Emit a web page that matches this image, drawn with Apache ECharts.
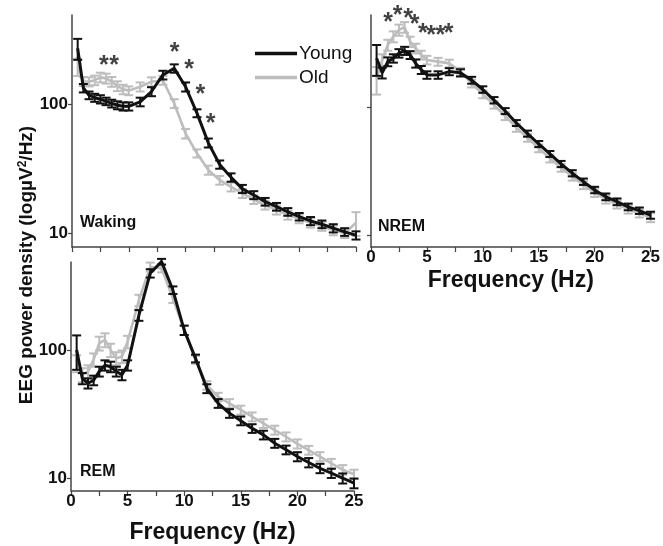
<!DOCTYPE html>
<html><head><meta charset="utf-8">
<script src="https://cdn.jsdelivr.net/npm/echarts@6/dist/echarts.min.js"></script>
<style>html,body{margin:0;padding:0;background:#fff}#c{width:663px;height:546px}</style>
</head><body><div id="c"></div>
<script>
// frequency bins (Hz)
const freq = [0.5,1,1.5,2,2.5,3,3.5,4,4.5,5,6,7,8,9,10,11,12,13,14,15,16,17,18,19,20,21,22,23,24,25];
// Waking
const wakeYoung    = [270,133,117,112,109,105,101,98,96,96,104,125,168,189,136,85,50,34,27,22,19.7,17.5,16,14.6,13.4,12.4,11.7,10.9,10.2,9.6];
const wakeYoungSem = [50,10,8,8,8,7,7,7,7,7,8,10,13,14,11,6,4,2.5,2,1.6,1.4,1.2,1.1,1,0.9,0.9,0.8,0.8,0.7,0.7];
const wakeOld      = [195,150,149,153,161,158,149,138,130,127,136,149,153,101,59,41.5,30.8,25.7,22.8,20.3,18.2,16.5,15.1,13.8,12.9,12.0,11.3,10.5,9.95,12];
const wakeOldSem   = [30,12,12,13,14,14,13,12,11,10,11,12,12,8,5,3,2.5,2,1.8,1.6,1.4,1.3,1.2,1.1,1,1,0.9,0.9,0.8,2.5];
// NREM
const nremYoung    = [240,185,226,240,263,275,255,219,195,178,178,189,185,162,137,113,93,75,62,51.4,43,35.9,30.4,26.1,22.5,19.9,18.2,16.6,15.5,14.3];
const nremYoungSem = [65,18,18,18,20,20,18,16,14,12,12,12,12,10,8,6.5,5,4,3.4,2.8,2.3,2,1.7,1.5,1.3,1.2,1.1,1,0.9,0.9];
const nremOld      = [165,233,305,355,400,420,324,287,255,233,226,219,189,153,126,104,85,69,57.5,47.6,39.7,33.6,28.6,24.6,21.4,19,17.4,15.9,14.8,13.7];
const nremOldSem   = [40,25,30,35,40,40,30,25,20,18,16,15,13,11,9,7,6,5,4,3.3,2.8,2.4,2,1.8,1.6,1.4,1.3,1.2,1.1,1.1];
// REM
const remYoung     = [100,60,55,58,68,76,74,68,64,76,187,398,490,294,143,86,50,38.3,32,28,24.4,21.7,18.7,16.6,14.7,13.2,11.9,10.9,9.95,9.1];
const remYoungSem  = [30,6,5,5,6,7,7,6,6,7,18,30,25,20,12,6,4,3,2.5,2.2,1.9,1.7,1.5,1.3,1.2,1.1,1,0.9,0.9,0.8];
const remOld       = [79,64,68,84,113,120,100,86,89,116,245,447,434,253,143,84,53,43,38.3,34,30.1,26.7,23.7,21,18.5,16.5,14.7,13,11.6,10.7];
const remOldSem    = [12,8,8,10,14,15,12,10,10,13,25,35,30,20,12,6,4,3.3,3,2.7,2.4,2.1,1.9,1.7,1.5,1.3,1.2,1.1,1,0.9];
// significance markers [freq, level]
const asterWake = [[2.8,215],[3.7,215],[9.04,270],[10.3,200],[11.3,128],[12.2,76]];
const asterNrem = [[1.53,493],[2.37,556],[3.31,533],[3.9,473],[4.64,405],[5.38,394],[6.2,394],[6.94,405]];
// tick labels
const yTickVals = [10, 100];
const xTickLabels = [0, 5, 10, 15, 20, 25];

const FONT = "'Liberation Sans', Arial, sans-serif";
const BLACK = '#111111', GRAY = '#bdbdbd', AXIS = '#444444';

function errRender(params, api) {
  const x = api.value(0), lo = api.value(1), hi = api.value(2);
  const p1 = api.coord([x, lo]), p2 = api.coord([x, hi]);
  const w = 4.5;
  const style = { stroke: api.visual('color'), lineWidth: 2 };
  return { type: 'group', children: [
    { type: 'line', shape: { x1: p1[0], y1: p1[1], x2: p2[0], y2: p2[1] }, style },
    { type: 'line', shape: { x1: p1[0] - w, y1: p1[1], x2: p1[0] + w, y2: p1[1] }, style },
    { type: 'line', shape: { x1: p2[0] - w, y1: p2[1], x2: p2[0] + w, y2: p2[1] }, style }
  ]};
}
function lineSeries(name, vals, color, idx) {
  return { name, type: 'line', xAxisIndex: idx, yAxisIndex: idx, data: freq.map((f, i) => [f, vals[i]]),
    showSymbol: false, symbol: 'none', clip: false, color,
    lineStyle: { color, width: color === BLACK ? 3 : 2.6 }, z: color === BLACK ? 4 : 2 };
}
function errSeries(name, vals, sem, color, idx) {
  return { name, type: 'custom', xAxisIndex: idx, yAxisIndex: idx, renderItem: errRender, clip: false,
    itemStyle: { color }, encode: { x: 0, y: [1, 2] }, z: color === BLACK ? 5 : 3,
    data: freq.map((f, i) => [f, vals[i] - sem[i], vals[i] + sem[i]]) };
}
function asterSeries(pts, idx) {
  return { type: 'scatter', xAxisIndex: idx, yAxisIndex: idx, data: pts, symbolSize: 1, clip: false,
    itemStyle: { color: 'rgba(0,0,0,0)' }, z: 6,
    label: { show: true, position: 'inside', formatter: '*', fontSize: 25, fontWeight: 'bold', color: BLACK, fontFamily: FONT, offset: [0, 5] } };
}
function xAxis(idx, showLabels, nameGap) {
  return { type: 'value', gridIndex: idx, min: 0, max: 25, interval: 2.5,
    axisLine: { show: true, lineStyle: { color: AXIS, width: 1.5 } },
    axisTick: { show: true, length: 5, lineStyle: { color: AXIS, width: 1.2 } },
    splitLine: { show: false },
    axisLabel: { show: showLabels, margin: showLabels ? 2 : 8, fontFamily: FONT, fontWeight: 'bold', fontSize: 17, color: BLACK,
      formatter: v => (xTickLabels.indexOf(v) >= 0 ? String(v) : '') },
    name: showLabels ? 'Frequency (Hz)' : '', nameLocation: 'middle', nameGap,
    nameTextStyle: { fontFamily: FONT, fontWeight: 'bold', fontSize: 23, color: BLACK } };
}
function yAxis(idx, min, max, showLabels) {
  return { type: 'log', logBase: 10, gridIndex: idx, min, max,
    axisLine: { show: true, lineStyle: { color: AXIS, width: 1.5 } },
    axisTick: { show: true, length: 4, customValues: yTickVals, lineStyle: { color: AXIS, width: 1.2 } },
    splitLine: { show: false }, minorTick: { show: false },
    axisLabel: { show: showLabels, customValues: yTickVals, margin: 4, fontFamily: FONT, fontWeight: 'bold', fontSize: 17, color: BLACK } };
}

const chart = echarts.init(document.getElementById('c'), null, { renderer: 'canvas' });
chart.setOption({
  backgroundColor: '#ffffff',
  animation: false,
  grid: [
    { left: 72, top: 15, width: 284, height: 232 },
    { left: 371, top: 15, width: 282, height: 232 },
    { left: 71, top: 262, width: 283, height: 229 }
  ],
  xAxis: [xAxis(0, false, 20), xAxis(1, true, 22), xAxis(2, true, 30)],
  yAxis: [yAxis(0, 7.79, 490, true), yAxis(1, 8.06, 523, false), yAxis(2, 7.91, 487, true)],
  legend: { data: [{ name: 'Young', icon: 'rect' }, { name: 'Old', icon: 'rect' }], orient: 'vertical', left: 250, top: 39,
    itemWidth: 42, itemHeight: 3.5, itemGap: 5,
    textStyle: { fontFamily: FONT, fontSize: 19, color: BLACK, padding: [0, 0, 0, -3] } },
  graphic: [
    { type: 'text', left: 80, top: 215, style: { text: 'Waking', font: "bold 16px 'Liberation Sans', Arial", fill: BLACK } },
    { type: 'text', left: 378, top: 219, style: { text: 'NREM', font: "bold 16px 'Liberation Sans', Arial", fill: BLACK } },
    { type: 'text', left: 80, top: 464, style: { text: 'REM', font: "bold 16px 'Liberation Sans', Arial", fill: BLACK } },
    { type: 'text', x: 27, y: 265, rotation: Math.PI / 2,
      style: { text: 'EEG power density (logµV{s|2}/Hz)', align: 'center', verticalAlign: 'middle',
        font: "bold 19px 'Liberation Sans', Arial", fill: BLACK,
        rich: { s: { fontSize: 12, fontWeight: 'bold', fontFamily: FONT, verticalAlign: 'top', padding: [0,0,8,0] } } } }
  ],
  series: [
    lineSeries('Old', wakeOld, GRAY, 0), errSeries('eOld', wakeOld, wakeOldSem, GRAY, 0),
    lineSeries('Young', wakeYoung, BLACK, 0), errSeries('eYoung', wakeYoung, wakeYoungSem, BLACK, 0),
    lineSeries('Old', nremOld, GRAY, 1), errSeries('eOld', nremOld, nremOldSem, GRAY, 1),
    lineSeries('Young', nremYoung, BLACK, 1), errSeries('eYoung', nremYoung, nremYoungSem, BLACK, 1),
    lineSeries('Old', remOld, GRAY, 2), errSeries('eOld', remOld, remOldSem, GRAY, 2),
    lineSeries('Young', remYoung, BLACK, 2), errSeries('eYoung', remYoung, remYoungSem, BLACK, 2),
    asterSeries(asterWake, 0), asterSeries(asterNrem, 1)
  ]
});
</script></body></html>
